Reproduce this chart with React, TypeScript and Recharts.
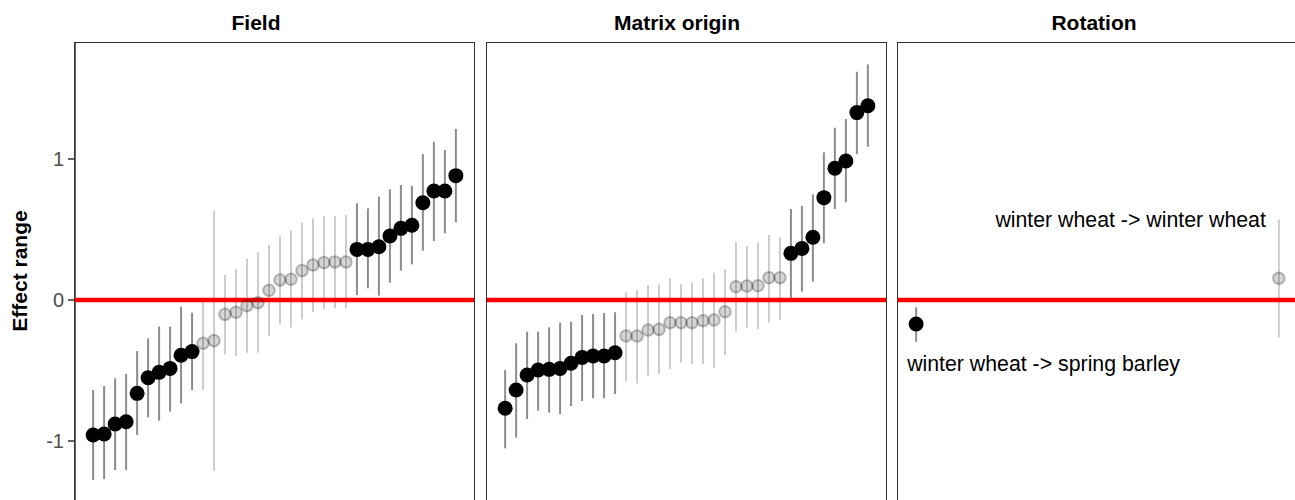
import React from "react";
import { ScatterChart, Scatter, XAxis, YAxis, ErrorBar } from "recharts";

// Field panel: estimate, lower and upper bound, significance
const fieldEst = [
  -0.957, -0.95, -0.879, -0.863, -0.662, -0.551, -0.513, -0.485, -0.392, -0.366,
  -0.307, -0.288, -0.102, -0.087, -0.04, -0.019, 0.069, 0.142, 0.147, 0.208,
  0.248, 0.265, 0.27, 0.27, 0.359, 0.359, 0.378, 0.454, 0.508, 0.53, 0.69,
  0.773, 0.773, 0.882,
];
const fieldLow = [
  -1.277, -1.27, -1.206, -1.206, -0.957, -0.832, -0.856, -0.792, -0.733, -0.638,
  -0.638, -1.213, -0.385, -0.397, -0.374, -0.374, -0.255, -0.172, -0.194, -0.137,
  -0.087, -0.066, -0.059, -0.059, 0.035, 0.083, 0.031, 0.123, 0.208, 0.253,
  0.35, 0.418, 0.473, 0.551,
];
const fieldHigh = [
  -0.638, -0.61, -0.556, -0.525, -0.362, -0.272, -0.189, -0.189, -0.047, -0.09,
  0.005, 0.633, 0.177, 0.218, 0.291, 0.338, 0.39, 0.454, 0.492, 0.548, 0.579,
  0.596, 0.596, 0.603, 0.686, 0.65, 0.733, 0.785, 0.816, 0.809, 1.035, 1.123,
  1.064, 1.213,
];
const fieldSig = [
  1, 1, 1, 1, 1, 1, 1, 1, 1, 1, 0, 0, 0, 0, 0, 0, 0, 0, 0, 0, 0, 0, 0, 0, 1, 1,
  1, 1, 1, 1, 1, 1, 1, 1,
];

// Matrix origin panel
const matrixEst = [
  -0.768, -0.638, -0.532, -0.496, -0.492, -0.485, -0.449, -0.407, -0.397, -0.397,
  -0.374, -0.255, -0.255, -0.213, -0.208, -0.161, -0.161, -0.161, -0.147, -0.142,
  -0.083, 0.094, 0.099, 0.101, 0.158, 0.158, 0.331, 0.366, 0.445, 0.726, 0.934,
  0.986, 1.329, 1.378,
];
const matrixLow = [
  -1.052, -0.976, -0.844, -0.785, -0.799, -0.809, -0.752, -0.716, -0.697, -0.697,
  -0.667, -0.574, -0.591, -0.537, -0.525, -0.489, -0.442, -0.454, -0.454, -0.48,
  -0.39, -0.225, -0.196, -0.206, -0.161, -0.142, 0.012, 0.059, 0.13, 0.402,
  0.645, 0.693, 1.035, 1.087,
];
const matrixHigh = [
  -0.496, -0.307, -0.225, -0.225, -0.194, -0.161, -0.154, -0.106, -0.099, -0.092,
  -0.087, 0.054, 0.071, 0.106, 0.111, 0.154, 0.111, 0.125, 0.154, 0.194, 0.218,
  0.409, 0.383, 0.407, 0.461, 0.445, 0.645, 0.667, 0.749, 1.047, 1.222, 1.284,
  1.619, 1.671,
];
const matrixSig = [
  1, 1, 1, 1, 1, 1, 1, 1, 1, 1, 1, 0, 0, 0, 0, 0, 0, 0, 0, 0, 0, 0, 0, 0, 0, 0,
  1, 1, 1, 1, 1, 1, 1, 1,
];

// Rotation panel
const rotationNames = [
  "winter wheat -> spring barley",
  "winter wheat -> winter wheat",
];
const rotationEst = [-0.17, 0.154];
const rotationLow = [-0.296, -0.265];
const rotationHigh = [-0.052, 0.572];
const rotationSig = [1, 0];

const panelTitles = ["Field", "Matrix origin", "Rotation"];
const yTicks = [-1, 0, 1];
const X_DOMAIN = [-0.05, 1.05];
// zero reference, spans the whole x range
const zeroLine = [
  { x: X_DOMAIN[0], y: 0 },
  { x: X_DOMAIN[1], y: 0 },
];

const PLOT_TOP = 43;
const CHART_H = 520;
const PANEL_W = 399;
// 0 sits at y=300, 141px per unit
const Y_DOMAIN = [(300 - CHART_H) / 141, (300 - PLOT_TOP) / 141];

type Pt = { x: number; y: number; err: number[]; name?: string };

function build(est: number[], low: number[], high: number[], sig: number[], names?: string[]) {
  const pts = est.map((y, i) => ({
    x: est.length > 1 ? i / (est.length - 1) : 0.5,
    y,
    err: [y - low[i], high[i] - y],
    name: names ? names[i] : undefined,
    sig: sig[i] === 1,
  }));
  return { sig: pts.filter((p) => p.sig), ns: pts.filter((p) => !p.sig) };
}

function pointLabel(p: any) {
  if (!p.payload || !p.payload.name) return null;
  const below = p.payload.y < 0;
  return (
    <text
      x={below ? p.cx - 9 : p.cx - 13}
      y={below ? p.cy + 40 : p.cy - 58}
      textAnchor={below ? "start" : "end"}
      dominantBaseline="central"
      fontSize={21.3}
      fill="#000"
    >
      {p.payload.name}
    </text>
  );
}

const sigShape = (p: any) => (
  <g>
    <circle cx={p.cx} cy={p.cy} r={7.5} fill="#000" />
    {pointLabel(p)}
  </g>
);

const nsShape = (p: any) => (
  <g>
    <circle
      cx={p.cx}
      cy={p.cy}
      r={5.8}
      fill="#000"
      fillOpacity={0.16}
      stroke="#000"
      strokeOpacity={0.25}
      strokeWidth={2}
    />
    {pointLabel(p)}
  </g>
);

const noShape = () => <g />;

function Panel({
  left,
  axis,
  data,
}: {
  left: number;
  axis: boolean;
  data: { sig: Pt[]; ns: Pt[] };
}) {
  const axisW = axis ? 75 : 0;
  return (
    <div style={{ position: "absolute", left: left - axisW, top: 0 }}>
      <ScatterChart
        width={PANEL_W + axisW}
        height={CHART_H}
        margin={{ top: PLOT_TOP, right: 0, bottom: 0, left: 0 }}
      >
        <XAxis type="number" dataKey="x" domain={X_DOMAIN} allowDataOverflow hide />
        <YAxis
          type="number"
          dataKey="y"
          domain={Y_DOMAIN}
          ticks={yTicks}
          allowDataOverflow
          hide={!axis}
          width={axisW}
          tick={{ fill: "#4d4d4d", fontSize: 20 }}
          tickSize={7}
          tickMargin={4}
          tickLine={{ stroke: "#333", strokeWidth: 1.5 }}
          axisLine={{ stroke: "#333", strokeWidth: 1.5 }}
        />
        <Scatter
          data={zeroLine}
          line={{ stroke: "#ff0000", strokeWidth: 4.5 }}
          shape={noShape}
          isAnimationActive={false}
        />
        <Scatter data={data.ns} shape={nsShape} isAnimationActive={false}>
          <ErrorBar
            dataKey="err"
            direction="y"
            width={0}
            stroke="#000"
            strokeOpacity={0.2}
            strokeWidth={2}
          />
        </Scatter>
        <Scatter data={data.sig} shape={sigShape} isAnimationActive={false}>
          <ErrorBar
            dataKey="err"
            direction="y"
            width={0}
            stroke="#000"
            strokeOpacity={0.45}
            strokeWidth={2}
          />
        </Scatter>
      </ScatterChart>
    </div>
  );
}

const panelLefts = [75, 487, 898];
const titleCenters = [256, 677, 1094];

export default function App() {
  const panels = [
    build(fieldEst, fieldLow, fieldHigh, fieldSig),
    build(matrixEst, matrixLow, matrixHigh, matrixSig),
    build(rotationEst, rotationLow, rotationHigh, rotationSig, rotationNames),
  ];
  return (
    <div
      style={{
        position: "relative",
        width: 1295,
        height: 500,
        overflow: "hidden",
        background: "#fff",
        fontFamily: "'Liberation Sans', Arial, Helvetica, sans-serif",
      }}
    >
      <style>{"body{margin:0}"}</style>
      {panels.map((d, i) => (
        <Panel key={i} left={panelLefts[i]} axis={i === 0} data={d} />
      ))}
      {panelLefts.map((l, i) => (
        <div
          key={"b" + i}
          style={{
            position: "absolute",
            left: l - 0.75,
            top: PLOT_TOP - 0.75,
            width: PANEL_W + 1.5,
            height: 490,
            border: "1.5px solid #333",
            boxSizing: "border-box",
            pointerEvents: "none",
          }}
        />
      ))}
      {panelTitles.map((t, i) => (
        <div
          key={"t" + i}
          style={{
            position: "absolute",
            left: titleCenters[i],
            top: 23,
            transform: "translate(-50%, -50%)",
            fontWeight: "bold",
            fontSize: 21,
            whiteSpace: "nowrap",
            color: "#000",
          }}
        >
          {t}
        </div>
      ))}
      <div
        style={{
          position: "absolute",
          left: 20,
          top: 271,
          transform: "translate(-50%, -50%) rotate(-90deg)",
          fontWeight: "bold",
          fontSize: 21,
          whiteSpace: "nowrap",
          color: "#000",
        }}
      >
        Effect range
      </div>
    </div>
  );
}
